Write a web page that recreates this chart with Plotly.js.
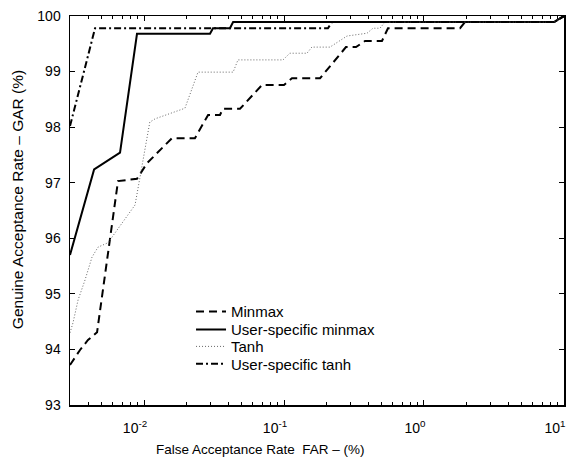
<!DOCTYPE html>
<html>
<head>
<meta charset="utf-8">
<script src="https://cdn.plot.ly/plotly-3.0.1.min.js"></script>
<style>
  html, body { margin: 0; padding: 0; background: #fff; }
  #chart { width: 571px; height: 459px; }
</style>
</head>
<body>
<div id="chart"></div>
<script>
// ROC-style curves: false acceptance rate (%) vs genuine acceptance rate (%)

const minmaxFar = [0.00296, 0.00349, 0.00398, 0.00462, 0.00652, 0.00891, 0.0105, 0.0130, 0.0158, 0.0231, 0.0287, 0.0349, 0.0366, 0.0485, 0.0697, 0.100, 0.114, 0.181, 0.277, 0.327, 0.379, 0.501, 0.553, 1.81, 1.96, 8.5, 10];
const minmaxGar = [93.72, 93.99, 94.17, 94.31, 97.03, 97.07, 97.35, 97.59, 97.80, 97.80, 98.22, 98.22, 98.33, 98.33, 98.76, 98.76, 98.88, 98.88, 99.44, 99.44, 99.55, 99.55, 99.78, 99.78, 99.89, 99.89, 100];

const userMinmaxFar = [0.00296, 0.0044, 0.00674, 0.00891, 0.0296, 0.0311, 0.0411, 0.0433, 8.5, 10];
const userMinmaxGar = [95.70, 97.24, 97.54, 99.68, 99.68, 99.78, 99.78, 99.89, 99.89, 100];

const tanhFar = [0.00296, 0.00311, 0.00338, 0.00379, 0.00425, 0.00469, 0.00553, 0.00863, 0.0110, 0.0120, 0.0196, 0.0243, 0.0433, 0.0469, 0.0984, 0.110, 0.146, 0.158, 0.213, 0.282, 0.392, 0.432, 0.485, 0.526, 8.5, 10];
const tanhGar = [94.30, 94.48, 94.89, 95.25, 95.66, 95.84, 95.92, 96.60, 98.09, 98.15, 98.34, 98.99, 98.99, 99.21, 99.21, 99.33, 99.33, 99.44, 99.44, 99.64, 99.69, 99.78, 99.78, 99.89, 99.89, 100];

const userTanhFar = [0.00296, 0.00447, 0.206, 0.220, 8.5, 10];
const userTanhGar = [98.02, 99.78, 99.78, 99.89, 99.89, 100];

const seriesNames = ['Minmax', 'User-specific minmax', 'Tanh', 'User-specific tanh'];

const xTickVals = [0.01, 0.1, 1, 10];
const xTickText = ['10<sup>-2</sup>', '10<sup>-1</sup>', '10<sup>0</sup>', '10<sup>1</sup>'];
const yTickVals = [93, 94, 95, 96, 97, 98, 99, 100];

const xTitle = 'False Acceptance Rate\u00a0 FAR – (%)';
const yTitle = 'Genuine Acceptance Rate – GAR (%)';

// minor ticks at 2..9 within each decade
const xMinorVals = [];
[-3, -2, -1, 0].forEach(function (e) {
  for (let m = 2; m <= 9; m++) xMinorVals.push(m * Math.pow(10, e));
});

const legendIds = ['legend', 'legend2', 'legend3', 'legend4'];

const traces = [
  { x: minmaxFar, y: minmaxGar, name: seriesNames[0],
    line: { color: '#000', width: 2, dash: '8px,5px' } },
  { x: userMinmaxFar, y: userMinmaxGar, name: seriesNames[1],
    line: { color: '#000', width: 2, dash: 'solid' } },
  { x: tanhFar, y: tanhGar, name: seriesNames[2],
    line: { color: '#666', width: 1, dash: '1px,2px' } },
  { x: userTanhFar, y: userTanhGar, name: seriesNames[3],
    line: { color: '#000', width: 2, dash: '7px,3px,2px,3px' } }
].map(function (t, i) {
  return Object.assign({ type: 'scatter', mode: 'lines', hoverinfo: 'skip', legend: legendIds[i] }, t);
});

const font = { family: 'Liberation Sans, Arial, sans-serif', color: '#000' };

// one legend box per entry, stacked with tight spacing
const legendRows = [0.2399, 0.1937, 0.1500, 0.1054];
function legendBox(y) {
  return {
    x: 0.245, y: y, xanchor: 'left', yanchor: 'middle',
    bgcolor: 'rgba(0,0,0,0)', borderwidth: 0,
    font: Object.assign({ size: 15 }, font)
  };
}

const layout = {
  width: 571,
  height: 459,
  margin: { l: 70, r: 7, t: 16, b: 54 },
  paper_bgcolor: '#fff',
  plot_bgcolor: '#fff',
  font: Object.assign({ size: 14 }, font),
  showlegend: true,
  legend: legendBox(legendRows[0]),
  legend2: legendBox(legendRows[1]),
  legend3: legendBox(legendRows[2]),
  legend4: legendBox(legendRows[3]),
  xaxis: {
    type: 'log',
    range: [Math.log10(0.00296), 1.0002],
    tickmode: 'array',
    tickvals: xTickVals,
    ticktext: xTickText,
    ticks: 'inside',
    ticklen: 5,
    tickwidth: 1,
    tickcolor: '#000',
    ticklabelstandoff: 10,
    ticklabelshift: -9,
    ticklabeloverflow: 'allow',
    minor: { tickmode: 'array', tickvals: xMinorVals, ticks: 'inside', ticklen: 3, tickwidth: 1, tickcolor: '#000', showgrid: false },
    showline: true,
    linecolor: '#000',
    linewidth: 1.5,
    mirror: 'ticks',
    showgrid: false,
    zeroline: false,
    tickfont: Object.assign({ size: 14 }, font)
  },
  yaxis: {
    range: [93, 100],
    tickmode: 'array',
    tickvals: yTickVals,
    ticks: 'inside',
    ticklen: 5,
    tickwidth: 1,
    tickcolor: '#000',
    ticklabelstandoff: 5,
    showline: true,
    linecolor: '#000',
    linewidth: 1.5,
    mirror: 'ticks',
    showgrid: false,
    zeroline: false,
    tickfont: Object.assign({ size: 14 }, font)
  },
  annotations: [
    { text: xTitle, xref: 'paper', yref: 'paper', x: 0.385, y: -0.115,
      xanchor: 'center', yanchor: 'middle', showarrow: false,
      font: Object.assign({ size: 13.5 }, font) },
    { text: yTitle, xref: 'paper', yref: 'paper', x: -0.105, y: 0.527,
      xanchor: 'center', yanchor: 'middle', showarrow: false, textangle: -90,
      font: Object.assign({ size: 15.5 }, font) }
  ]
};

Plotly.newPlot('chart', traces, layout, { displayModeBar: false, staticPlot: true });
</script>
</body>
</html>
